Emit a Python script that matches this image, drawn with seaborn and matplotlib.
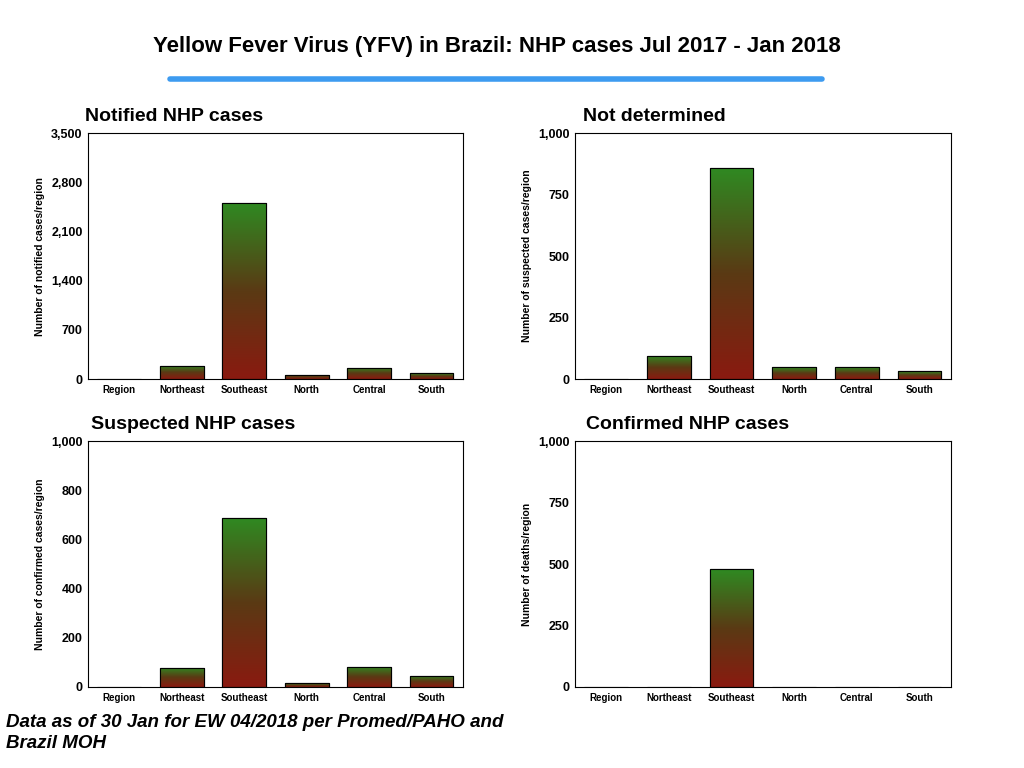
import numpy as np
import pandas as pd
import matplotlib
matplotlib.use("Agg")
import matplotlib.pyplot as plt
import seaborn as sns
from matplotlib.colors import LinearSegmentedColormap
from matplotlib.lines import Line2D

regions = ["Region", "Northeast", "Southeast", "North", "Central", "South"]
notified = [0, 190, 2510, 60, 160, 80]
not_determined = [0, 95, 860, 48, 48, 32]
suspected = [0, 78, 688, 15, 82, 45]
confirmed = [0, 0, 480, 0, 0, 0]

sns.set_style("white")
plt.rcParams["font.family"] = ["Liberation Sans", "DejaVu Sans"]
plt.rcParams["text.color"] = "black"
plt.rcParams["axes.labelcolor"] = "black"
plt.rcParams["xtick.color"] = "black"
plt.rcParams["ytick.color"] = "black"

grad = LinearSegmentedColormap.from_list("rg", ["#8a1a10", "#5a3a14", "#2f8a22"])

fig = plt.figure(figsize=(10.24, 7.68), dpi=100)
fig.text(0.485, 0.94, "Yellow Fever Virus (YFV) in Brazil: NHP cases Jul 2017 - Jan 2018",
         ha="center", va="center", fontsize=16, fontweight="bold")
fig.add_artist(Line2D([0.166, 0.803], [0.897, 0.897], color="#3d9bf0", lw=4))

panels = [
    ([0.086, 0.5065, 0.366, 0.32], notified, "Notified NHP cases", "Number of notified cases/region",
     [0, 700, 1400, 2100, 2800, 3500], 0.083),
    ([0.5615, 0.5065, 0.367, 0.32], not_determined, "Not determined", "Number of suspected cases/region",
     [0, 250, 500, 750, 1000], 0.569),
    ([0.086, 0.1055, 0.366, 0.32], suspected, "Suspected NHP cases", "Number of confirmed cases/region",
     [0, 200, 400, 600, 800, 1000], 0.089),
    ([0.5615, 0.1055, 0.367, 0.32], confirmed, "Confirmed NHP cases", "Number of deaths/region",
     [0, 250, 500, 750, 1000], 0.572),
]

img = np.linspace(0, 1, 256).reshape(-1, 1)
for pos, vals, title, ylabel, ticks, tx in panels:
    ax = fig.add_axes(pos)
    df = pd.DataFrame({"region": regions, "value": vals})
    sns.barplot(data=df, x="region", y="value", ax=ax, width=0.7,
                color="white", edgecolor="black", linewidth=0.8)
    ax.set_ylim(0, ticks[-1])
    ax.set_xlim(-0.5, 5.5)
    for p in ax.patches:
        h = p.get_height()
        if h <= 0:
            continue
        x0 = p.get_x()
        im = ax.imshow(img, cmap=grad, origin="lower", aspect="auto",
                       extent=[x0, x0 + p.get_width(), 0, h], zorder=p.get_zorder() + 0.1)
        im.set_clip_path(p)
        ax.add_patch(plt.Rectangle((x0, 0), p.get_width(), h, fill=False,
                                   edgecolor="black", lw=0.8, zorder=p.get_zorder() + 0.2))
    ax.set_yticks(ticks)
    ax.set_yticklabels([f"{t:,}" for t in ticks], fontsize=9, fontweight="bold")
    ax.set_xticklabels(regions, fontsize=7, fontweight="bold")
    ax.set_xlabel("")
    ax.set_ylabel(ylabel, fontsize=7.5, fontweight="bold")
    for s in ax.spines.values():
        s.set_color("black")
        s.set_linewidth(0.8)
    ax.tick_params(length=0, pad=4)
    fig.text(tx, pos[1] + pos[3] + 0.022, title, fontsize=14, fontweight="bold", va="center")

fig.text(0.006, 0.046, "Data as of 30 Jan for EW 04/2018 per Promed/PAHO and\nBrazil MOH",
         fontsize=13.5, fontweight="bold", style="italic", va="center", linespacing=1.3)

fig.savefig("out.png", dpi=100)
